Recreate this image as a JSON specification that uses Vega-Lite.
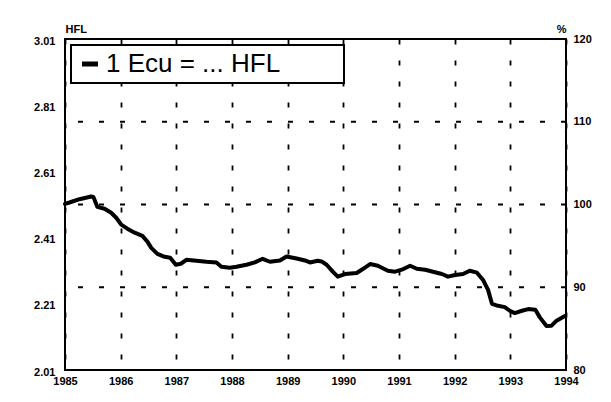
{
  "$schema": "https://vega.github.io/schema/vega-lite/v6.json",
  "autosize": {"type": "none"},
  "width": 501,
  "height": 331,
  "padding": {"left": 65, "top": 39, "right": 45, "bottom": 32},
  "background": "white",
  "config": {
    "view": {"stroke": "black", "strokeWidth": 2},
    "font": "Liberation Sans",
    "legend": {"strokeWidth": 2},
    "axis": {
      "labelFont": "Liberation Sans",
      "labelFontWeight": "bold",
      "labelFontSize": 11,
      "labelColor": "black",
      "titleFont": "Liberation Sans",
      "titleFontWeight": "bold",
      "titleFontSize": 11,
      "titleColor": "black",
      "domain": false,
      "ticks": false,
      "tickSize": 0
    }
  },
  "datasets": {
    "rate": [
      {"t": 1985.00, "v": 2.512, "s": "1 Ecu = ... HFL"},
      {"t": 1985.08, "v": 2.516, "s": "1 Ecu = ... HFL"},
      {"t": 1985.26, "v": 2.526, "s": "1 Ecu = ... HFL"},
      {"t": 1985.47, "v": 2.534, "s": "1 Ecu = ... HFL"},
      {"t": 1985.51, "v": 2.533, "s": "1 Ecu = ... HFL"},
      {"t": 1985.58, "v": 2.503, "s": "1 Ecu = ... HFL"},
      {"t": 1985.71, "v": 2.497, "s": "1 Ecu = ... HFL"},
      {"t": 1985.83, "v": 2.485, "s": "1 Ecu = ... HFL"},
      {"t": 1985.92, "v": 2.470, "s": "1 Ecu = ... HFL"},
      {"t": 1986.01, "v": 2.449, "s": "1 Ecu = ... HFL"},
      {"t": 1986.12, "v": 2.437, "s": "1 Ecu = ... HFL"},
      {"t": 1986.25, "v": 2.425, "s": "1 Ecu = ... HFL"},
      {"t": 1986.39, "v": 2.415, "s": "1 Ecu = ... HFL"},
      {"t": 1986.48, "v": 2.398, "s": "1 Ecu = ... HFL"},
      {"t": 1986.55, "v": 2.379, "s": "1 Ecu = ... HFL"},
      {"t": 1986.66, "v": 2.361, "s": "1 Ecu = ... HFL"},
      {"t": 1986.79, "v": 2.352, "s": "1 Ecu = ... HFL"},
      {"t": 1986.89, "v": 2.349, "s": "1 Ecu = ... HFL"},
      {"t": 1986.99, "v": 2.328, "s": "1 Ecu = ... HFL"},
      {"t": 1987.08, "v": 2.331, "s": "1 Ecu = ... HFL"},
      {"t": 1987.18, "v": 2.343, "s": "1 Ecu = ... HFL"},
      {"t": 1987.36, "v": 2.340, "s": "1 Ecu = ... HFL"},
      {"t": 1987.54, "v": 2.337, "s": "1 Ecu = ... HFL"},
      {"t": 1987.72, "v": 2.335, "s": "1 Ecu = ... HFL"},
      {"t": 1987.81, "v": 2.322, "s": "1 Ecu = ... HFL"},
      {"t": 1987.96, "v": 2.319, "s": "1 Ecu = ... HFL"},
      {"t": 1988.08, "v": 2.322, "s": "1 Ecu = ... HFL"},
      {"t": 1988.26, "v": 2.328, "s": "1 Ecu = ... HFL"},
      {"t": 1988.41, "v": 2.335, "s": "1 Ecu = ... HFL"},
      {"t": 1988.55, "v": 2.346, "s": "1 Ecu = ... HFL"},
      {"t": 1988.68, "v": 2.337, "s": "1 Ecu = ... HFL"},
      {"t": 1988.86, "v": 2.341, "s": "1 Ecu = ... HFL"},
      {"t": 1988.98, "v": 2.353, "s": "1 Ecu = ... HFL"},
      {"t": 1989.16, "v": 2.347, "s": "1 Ecu = ... HFL"},
      {"t": 1989.31, "v": 2.341, "s": "1 Ecu = ... HFL"},
      {"t": 1989.40, "v": 2.335, "s": "1 Ecu = ... HFL"},
      {"t": 1989.54, "v": 2.340, "s": "1 Ecu = ... HFL"},
      {"t": 1989.61, "v": 2.338, "s": "1 Ecu = ... HFL"},
      {"t": 1989.70, "v": 2.328, "s": "1 Ecu = ... HFL"},
      {"t": 1989.81, "v": 2.307, "s": "1 Ecu = ... HFL"},
      {"t": 1989.90, "v": 2.292, "s": "1 Ecu = ... HFL"},
      {"t": 1990.03, "v": 2.300, "s": "1 Ecu = ... HFL"},
      {"t": 1990.24, "v": 2.303, "s": "1 Ecu = ... HFL"},
      {"t": 1990.35, "v": 2.315, "s": "1 Ecu = ... HFL"},
      {"t": 1990.48, "v": 2.330, "s": "1 Ecu = ... HFL"},
      {"t": 1990.62, "v": 2.325, "s": "1 Ecu = ... HFL"},
      {"t": 1990.80, "v": 2.310, "s": "1 Ecu = ... HFL"},
      {"t": 1990.93, "v": 2.307, "s": "1 Ecu = ... HFL"},
      {"t": 1991.05, "v": 2.313, "s": "1 Ecu = ... HFL"},
      {"t": 1991.20, "v": 2.325, "s": "1 Ecu = ... HFL"},
      {"t": 1991.32, "v": 2.316, "s": "1 Ecu = ... HFL"},
      {"t": 1991.47, "v": 2.313, "s": "1 Ecu = ... HFL"},
      {"t": 1991.61, "v": 2.307, "s": "1 Ecu = ... HFL"},
      {"t": 1991.77, "v": 2.300, "s": "1 Ecu = ... HFL"},
      {"t": 1991.88, "v": 2.292, "s": "1 Ecu = ... HFL"},
      {"t": 1992.01, "v": 2.297, "s": "1 Ecu = ... HFL"},
      {"t": 1992.15, "v": 2.300, "s": "1 Ecu = ... HFL"},
      {"t": 1992.27, "v": 2.310, "s": "1 Ecu = ... HFL"},
      {"t": 1992.40, "v": 2.304, "s": "1 Ecu = ... HFL"},
      {"t": 1992.51, "v": 2.282, "s": "1 Ecu = ... HFL"},
      {"t": 1992.60, "v": 2.252, "s": "1 Ecu = ... HFL"},
      {"t": 1992.67, "v": 2.210, "s": "1 Ecu = ... HFL"},
      {"t": 1992.78, "v": 2.204, "s": "1 Ecu = ... HFL"},
      {"t": 1992.90, "v": 2.200, "s": "1 Ecu = ... HFL"},
      {"t": 1992.99, "v": 2.189, "s": "1 Ecu = ... HFL"},
      {"t": 1993.08, "v": 2.182, "s": "1 Ecu = ... HFL"},
      {"t": 1993.21, "v": 2.189, "s": "1 Ecu = ... HFL"},
      {"t": 1993.32, "v": 2.194, "s": "1 Ecu = ... HFL"},
      {"t": 1993.45, "v": 2.192, "s": "1 Ecu = ... HFL"},
      {"t": 1993.53, "v": 2.169, "s": "1 Ecu = ... HFL"},
      {"t": 1993.65, "v": 2.143, "s": "1 Ecu = ... HFL"},
      {"t": 1993.74, "v": 2.144, "s": "1 Ecu = ... HFL"},
      {"t": 1993.83, "v": 2.159, "s": "1 Ecu = ... HFL"},
      {"t": 1993.98, "v": 2.173, "s": "1 Ecu = ... HFL"}
    ],
    "grid": [
      {"p": 90},
      {"p": 100},
      {"p": 110}
    ]
  },
  "layer": [
    {
      "data": {"name": "grid"},
      "mark": {"type": "rule", "stroke": "black", "strokeWidth": 1.8, "strokeDash": [5, 16]},
      "encoding": {
        "y": {
          "field": "p",
          "type": "quantitative",
          "scale": {"domain": [80, 120], "nice": false, "zero": false},
          "axis": {
            "orient": "right",
            "values": [80, 90, 100, 110, 120],
            "format": "d",
            "grid": false,
            "labelPadding": 7,
            "title": "%",
            "titleAngle": 0,
            "titleAlign": "right",
            "titleBaseline": "alphabetic",
            "titleX": 0,
            "titleY": -7
          }
        }
      }
    },
    {
      "data": {"name": "rate"},
      "mark": {"type": "line", "strokeWidth": 4, "strokeJoin": "round", "strokeCap": "round"},
      "encoding": {
        "x": {
          "field": "t",
          "type": "quantitative",
          "scale": {"domain": [1985, 1994], "nice": false, "zero": false},
          "axis": {
            "values": [1985, 1986, 1987, 1988, 1989, 1990, 1991, 1992, 1993, 1994],
            "format": "d",
            "labelFlush": false,
            "labelPadding": 5,
            "grid": true,
            "gridColor": "black",
            "gridWidth": 1.8,
            "gridDash": [5, 16],
            "gridOpacity": 1,
            "title": null
          }
        },
        "y": {
          "field": "v",
          "type": "quantitative",
          "scale": {"domain": [2.01, 3.01], "nice": false, "zero": false},
          "axis": {
            "orient": "left",
            "values": [2.01, 2.21, 2.41, 2.61, 2.81, 3.01],
            "format": ".2f",
            "grid": false,
            "labelPadding": 10,
            "labelOffset": 2,
            "title": "HFL",
            "titleAngle": 0,
            "titleAlign": "left",
            "titleBaseline": "alphabetic",
            "titleX": 0,
            "titleY": -7
          }
        },
        "color": {
          "field": "s",
          "type": "nominal",
          "scale": {"range": ["black"]},
          "legend": {
            "title": null,
            "orient": "top-left",
            "offset": 6,
            "padding": 6,
            "strokeColor": "black",
            "fillColor": "white",
            "symbolType": "stroke",
            "symbolSize": 256,
            "symbolStrokeWidth": 5,
            "symbolStrokeColor": "black",
            "labelFont": "Liberation Sans",
            "labelFontSize": 26,
            "labelColor": "black",
            "labelOffset": 3,
            "labelLimit": 400,
            "labelExpr": "datum.label + '\u00a0\u00a0\u00a0\u00a0\u00a0\u00a0\u00a0\u00a0\u200b'"
          }
        }
      }
    }
  ],
  "resolve": {"scale": {"y": "independent"}}
}
